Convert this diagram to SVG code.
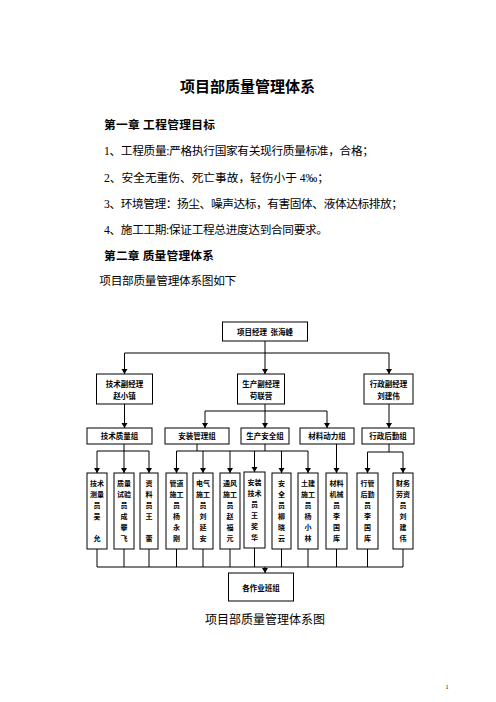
<svg xmlns="http://www.w3.org/2000/svg" width="496" height="702" viewBox="0 0 496 702">
<defs>
<marker id="arr" markerUnits="userSpaceOnUse" markerWidth="6" markerHeight="7" refX="5" refY="3" orient="auto">
<path d="M0,0 L5,3 L0,6 z" fill="#000"/>
</marker>
<style>
.body{font-family:"Liberation Serif","Noto Sans CJK SC",serif;font-size:11.7px;fill:#000}
.head{font-family:"Noto Sans CJK SC",sans-serif;font-size:11.7px;font-weight:bold;fill:#000}
.box{fill:#fff;stroke:#000;stroke-width:1}
.lbl{font-family:"Noto Sans CJK SC",sans-serif;font-size:7.5px;font-weight:bold;fill:#000;text-anchor:middle}
.leaf{font-family:"Noto Sans CJK SC",sans-serif;font-size:7px;font-weight:bold;fill:#000;text-anchor:middle}
.c{fill:none;stroke:#000;stroke-width:1}
.a{marker-end:url(#arr)}
</style>
</defs>
<rect width="496" height="702" fill="#fff"/>
<g id="page-text">
<text x="247.5" y="91.7" text-anchor="middle" font-family="Noto Sans CJK SC, sans-serif" font-size="15" font-weight="bold" textLength="135">项目部质量管理体系</text>
<text class="head" x="104" y="129.4" textLength="111">第一章 工程管理目标</text>
<text class="body" x="104" y="155.4" textLength="270">1、工程质量:严格执行国家有关现行质量标准，合格；</text>
<text class="body" x="104" y="181.7">2、安全无重伤、死亡事故，轻伤小于 4‰；</text>
<text class="body" x="104" y="207.7" textLength="299">3、环境管理：扬尘、噪声达标，有害固体、液体达标排放；</text>
<text class="body" x="104" y="233.7" textLength="224">4、施工工期:保证工程总进度达到合同要求。</text>
<text class="head" x="104" y="259.7" textLength="110">第二章 质量管理体系</text>
<text class="body" x="99.3" y="285" textLength="137">项目部质量管理体系图如下</text>
<text x="265" y="623.6" text-anchor="middle" font-family="Noto Sans CJK SC, sans-serif" font-size="12" textLength="120">项目部质量管理体系图</text>
<text x="447" y="689" text-anchor="middle" font-family="Liberation Serif, serif" font-size="6">1</text>
</g>
<g id="connectors">
<path class="c" d="M265,341 V353 M124.5,353 H389"/>
<path class="c a" d="M124.5,353 V374"/>
<path class="c a" d="M265,353 V374"/>
<path class="c a" d="M389,353 V374"/>
<path class="c a" d="M124.5,404 V428"/>
<path class="c" d="M265,404 V411 M205,411 H327"/>
<path class="c a" d="M205,411 V428"/>
<path class="c a" d="M265,411 V428"/>
<path class="c a" d="M327,411 V428"/>
<path class="c a" d="M389,404 V428"/>
<path class="c" d="M124,444 V451 M97,451 H149"/>
<path class="c a" d="M97,451 V473"/>
<path class="c a" d="M124,451 V473"/>
<path class="c a" d="M149,451 V473"/>
<path class="c" d="M197,444 V451 M265,444 V451 M176.5,451 H308"/>
<path class="c a" d="M176.5,451 V473"/>
<path class="c a" d="M203,451 V473"/>
<path class="c a" d="M230,451 V473"/>
<path class="c a" d="M254.5,451 V472"/>
<path class="c a" d="M281.5,451 V473"/>
<path class="c a" d="M308,451 V473"/>
<path class="c a" d="M336.5,444 V473"/>
<path class="c" d="M389,444 V452 M367.5,452 H403"/>
<path class="c a" d="M367.5,452 V473"/>
<path class="c a" d="M403,452 V473"/>
<path class="c" d="M97,549 V567 M124,549 V567 M149,549 V567 M176.5,549 V567 M203,549 V567 M230,549 V567 M254.5,548 V567 M281.5,549 V567 M308,549 V567 M336.5,549 V567 M367.5,549 V567 M403,549 V567 M97,567 H403"/>
<path class="c a" d="M265,567 V573"/>
</g>
<g id="pm">
<rect class="box" x="222.5" y="322" width="85" height="19"/>
<text class="lbl" x="265" y="334.5" xml:space="preserve">项目经理  张海峰</text>
</g>
<g id="tech-deputy">
<rect class="box" x="96.5" y="374" width="56" height="30"/>
<text class="lbl" x="124.5" y="386.9">技术副经理</text>
<text class="lbl" x="124.5" y="398.9">赵小镇</text>
</g>
<g id="prod-deputy">
<rect class="box" x="237.5" y="374" width="47" height="30"/>
<text class="lbl" x="261" y="386.9">生产副经理</text>
<text class="lbl" x="261" y="398.9">苟联营</text>
</g>
<g id="admin-deputy">
<rect class="box" x="364" y="374" width="49" height="30"/>
<text class="lbl" x="388.5" y="386.9">行政副经理</text>
<text class="lbl" x="388.5" y="398.9">刘建伟</text>
</g>
<g id="g-tech">
<rect class="box" x="87" y="428" width="65" height="16"/>
<text class="lbl" x="119.5" y="438.9">技术质量组</text>
</g>
<g id="g-install">
<rect class="box" x="165" y="428" width="64" height="16"/>
<text class="lbl" x="197" y="438.9">安装管理组</text>
</g>
<g id="g-safety">
<rect class="box" x="241" y="428" width="48" height="16"/>
<text class="lbl" x="265" y="438.9">生产安全组</text>
</g>
<g id="g-material">
<rect class="box" x="300" y="428" width="54" height="16"/>
<text class="lbl" x="327" y="438.9">材料动力组</text>
</g>
<g id="g-admin">
<rect class="box" x="362" y="428" width="52" height="16"/>
<text class="lbl" x="388" y="438.9">行政后勤组</text>
</g>
<g id="l1">
<rect class="box" x="87" y="473" width="20" height="76"/>
<text class="leaf"><tspan x="97" y="485.7">技术</tspan><tspan x="97" y="496.7">测量</tspan><tspan x="97" y="507.7">员</tspan><tspan x="97" y="518.7">吴</tspan><tspan x="97" y="540.7">允</tspan></text>
</g>
<g id="l2">
<rect class="box" x="114" y="473" width="20" height="76"/>
<text class="leaf"><tspan x="124" y="485.7">质量</tspan><tspan x="124" y="496.7">试验</tspan><tspan x="124" y="507.7">员</tspan><tspan x="124" y="518.7">成</tspan><tspan x="124" y="529.7">攀</tspan><tspan x="124" y="540.7">飞</tspan></text>
</g>
<g id="l3">
<rect class="box" x="140" y="473" width="18" height="76"/>
<text class="leaf"><tspan x="149" y="485.7">资</tspan><tspan x="149" y="496.7">料</tspan><tspan x="149" y="507.7">员</tspan><tspan x="149" y="518.7">王</tspan><tspan x="149" y="540.7">蕾</tspan></text>
</g>
<g id="l4">
<rect class="box" x="166" y="473" width="21" height="76"/>
<text class="leaf"><tspan x="176.5" y="485.7">管道</tspan><tspan x="176.5" y="496.7">施工</tspan><tspan x="176.5" y="507.7">员</tspan><tspan x="176.5" y="518.7">杨</tspan><tspan x="176.5" y="529.7">永</tspan><tspan x="176.5" y="540.7">刚</tspan></text>
</g>
<g id="l5">
<rect class="box" x="193" y="473" width="20" height="76"/>
<text class="leaf"><tspan x="203" y="485.7">电气</tspan><tspan x="203" y="496.7">施工</tspan><tspan x="203" y="507.7">员</tspan><tspan x="203" y="518.7">刘</tspan><tspan x="203" y="529.7">延</tspan><tspan x="203" y="540.7">安</tspan></text>
</g>
<g id="l6">
<rect class="box" x="220" y="473" width="20" height="76"/>
<text class="leaf"><tspan x="230" y="485.7">通风</tspan><tspan x="230" y="496.7">施工</tspan><tspan x="230" y="507.7">员</tspan><tspan x="230" y="518.7">赵</tspan><tspan x="230" y="529.7">福</tspan><tspan x="230" y="540.7">元</tspan></text>
</g>
<g id="l7">
<rect class="box" x="244" y="472" width="21" height="76"/>
<text class="leaf"><tspan x="254.5" y="484.7">安装</tspan><tspan x="254.5" y="495.7">技术</tspan><tspan x="254.5" y="506.7">员</tspan><tspan x="254.5" y="517.7">王</tspan><tspan x="254.5" y="528.7">奖</tspan><tspan x="254.5" y="539.7">华</tspan></text>
</g>
<g id="l8">
<rect class="box" x="272" y="473" width="19" height="76"/>
<text class="leaf"><tspan x="281.5" y="485.7">安</tspan><tspan x="281.5" y="496.7">全</tspan><tspan x="281.5" y="507.7">员</tspan><tspan x="281.5" y="518.7">柳</tspan><tspan x="281.5" y="529.7">晓</tspan><tspan x="281.5" y="540.7">云</tspan></text>
</g>
<g id="l9">
<rect class="box" x="298" y="473" width="20" height="76"/>
<text class="leaf"><tspan x="308" y="485.7">土建</tspan><tspan x="308" y="496.7">施工</tspan><tspan x="308" y="507.7">员</tspan><tspan x="308" y="518.7">杨</tspan><tspan x="308" y="529.7">小</tspan><tspan x="308" y="540.7">林</tspan></text>
</g>
<g id="l10">
<rect class="box" x="326" y="473" width="21" height="76"/>
<text class="leaf"><tspan x="336.5" y="485.7">材料</tspan><tspan x="336.5" y="496.7">机械</tspan><tspan x="336.5" y="507.7">员</tspan><tspan x="336.5" y="518.7">李</tspan><tspan x="336.5" y="529.7">国</tspan><tspan x="336.5" y="540.7">库</tspan></text>
</g>
<g id="l11">
<rect class="box" x="357" y="473" width="21" height="76"/>
<text class="leaf"><tspan x="367.5" y="485.7">行管</tspan><tspan x="367.5" y="496.7">后勤</tspan><tspan x="367.5" y="507.7">员</tspan><tspan x="367.5" y="518.7">李</tspan><tspan x="367.5" y="529.7">国</tspan><tspan x="367.5" y="540.7">库</tspan></text>
</g>
<g id="l12">
<rect class="box" x="393" y="473" width="20" height="76"/>
<text class="leaf"><tspan x="403" y="485.7">财务</tspan><tspan x="403" y="496.7">劳资</tspan><tspan x="403" y="507.7">员</tspan><tspan x="403" y="518.7">刘</tspan><tspan x="403" y="529.7">建</tspan><tspan x="403" y="540.7">伟</tspan></text>
</g>
<g id="teams">
<rect class="box" x="228.5" y="573" width="65" height="28"/>
<text class="lbl" x="261" y="590.9">各作业班组</text>
</g>
</svg>
